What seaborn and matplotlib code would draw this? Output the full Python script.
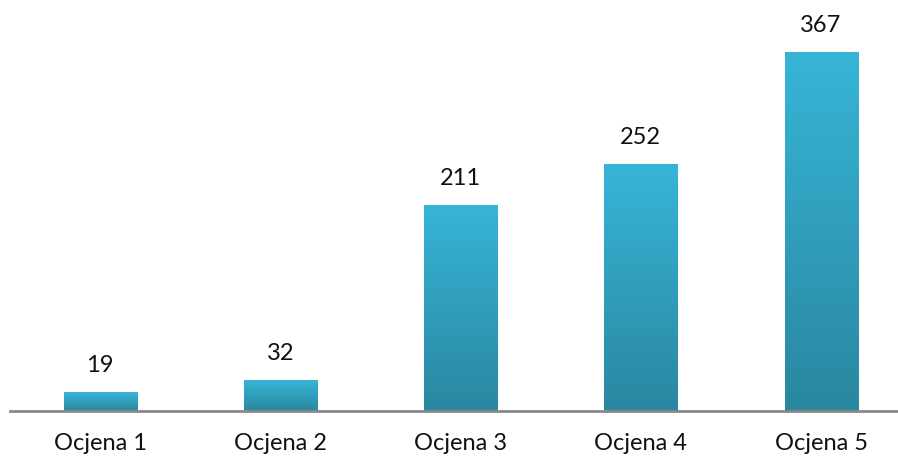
import numpy as np
import pandas as pd
import matplotlib
matplotlib.use("Agg")
import matplotlib.pyplot as plt
import seaborn as sns
from matplotlib.colors import LinearSegmentedColormap

# Daten
kategorien = ["Ocjena 1", "Ocjena 2", "Ocjena 3", "Ocjena 4", "Ocjena 5"]
werte = [19, 32, 211, 252, 367]

df = pd.DataFrame({"kategorie": kategorien, "wert": werte})

sns.set_style("white")
plt.rcParams["font.family"] = ["Lato", "DejaVu Sans"]

fig = plt.figure(figsize=(8.98, 4.57), dpi=100)
ax = fig.add_axes([0, 46 / 457, 1, 411 / 457])

sns.barplot(data=df, x="kategorie", y="wert", color="#31a4c4", width=0.405, ax=ax)

# Verlauf in jedem Balken
cmap = LinearSegmentedColormap.from_list("blau", ["#2a87a0", "#37b5d7"])
grad = np.linspace(0, 1, 256).reshape(-1, 1)
for bar in ax.patches:
    x0, y0 = bar.get_x(), bar.get_y()
    w, h = bar.get_width(), bar.get_height()
    img = ax.imshow(grad, cmap=cmap, aspect="auto", origin="lower",
                    extent=[x0, x0 + w, y0, y0 + h], zorder=bar.get_zorder())
    img.set_clip_path(bar)
    bar.set_facecolor("none")
    bar.set_edgecolor("none")
    ax.text(x0 + w / 2, y0 + h + 27, f"{int(h)}", ha="center", va="center",
            fontsize=17, color="#111111")

ax.set_xlim(-0.555, 4.427)
ax.set_ylim(0, 420)

sns.despine(ax=ax, left=True, top=True, right=True)
ax.spines["bottom"].set_color("#898989")
ax.spines["bottom"].set_linewidth(2)
ax.spines["bottom"].set_bounds(-0.5, 4.427)
ax.set_yticks([])
ax.set_xlabel("")
ax.set_ylabel("")
ax.tick_params(axis="x", length=0, pad=16, labelsize=17, labelcolor="#111111")

fig.savefig("out.png", dpi=100)
